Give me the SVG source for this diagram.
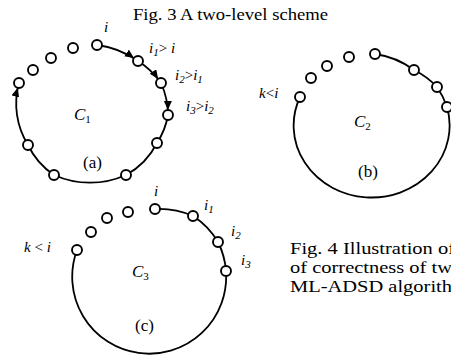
<svg xmlns="http://www.w3.org/2000/svg" width="451" height="355" viewBox="0 0 451 355">
<style>
  .edge { fill: none; stroke: #000; stroke-width: 1.8; }
  .node { fill: #fff; stroke: #000; stroke-width: 1.9; }
  text { font-family: "Liberation Serif", "Times New Roman", serif; fill: #000; }
  .it { font-style: italic; font-size: 15px; }
  .lbl { font-size: 17px; }
  .cap { font-size: 17px; }
</style>
<defs>
  <marker id="arr" markerUnits="userSpaceOnUse" markerWidth="15" markerHeight="9" refX="14" refY="4" orient="auto">
    <path d="M0,0 L9,4 L0,8 Z" fill="#000"/>
  </marker>
</defs>
<rect width="451" height="355" fill="#fff"/>

<text class="cap" x="133" y="20" textLength="195" lengthAdjust="spacingAndGlyphs">Fig. 3 A two-level scheme</text>

<g id="connectors">
  <path class="edge" d="M97,45 A90,90 0 0 1 138,61" marker-end="url(#arr)"/>
  <path class="edge" d="M138,61 A80,80 0 0 1 161,83" marker-end="url(#arr)"/>
  <path class="edge" d="M161,83 A80,80 0 0 1 168,115" marker-end="url(#arr)"/>
  <path class="edge" d="M168,115 A75,75 0 0 1 157,143 A75,75 0 0 1 126,175 A88,88 0 0 1 54,175 A75,75 0 0 1 28,145"/>
  <path class="edge" d="M28,145 A78,78 0 0 1 19,83" marker-end="url(#arr)"/>

  <path class="edge" d="M375,54 A85,85 0 0 1 414,70 A80,80 0 0 1 437,87 A80,80 0 0 1 447,107 A78,72 0 1 1 300,97"/>

  <path class="edge" d="M155,209 A85,85 0 0 1 193,216 A78,78 0 0 1 218,242 A78,78 0 0 1 226,271 A77,77 0 1 1 77,250"/>
</g>

<g id="a-n1"><circle class="node" cx="19" cy="83" r="5"/></g>
<g id="a-n2"><circle class="node" cx="33" cy="70" r="5"/></g>
<g id="a-n3"><circle class="node" cx="51" cy="58" r="5"/></g>
<g id="a-n4"><circle class="node" cx="73" cy="48" r="5"/></g>
<g id="a-i"><circle class="node" cx="97" cy="45" r="5"/></g>
<g id="a-i1"><circle class="node" cx="138" cy="61" r="5"/></g>
<g id="a-i2"><circle class="node" cx="161" cy="83" r="5"/></g>
<g id="a-i3"><circle class="node" cx="168" cy="115" r="5"/></g>
<g id="a-n9"><circle class="node" cx="157" cy="143" r="5"/></g>
<g id="a-n10"><circle class="node" cx="126" cy="175" r="5"/></g>
<g id="a-n11"><circle class="node" cx="54" cy="175" r="5"/></g>
<g id="a-n12"><circle class="node" cx="28" cy="145" r="5"/></g>

<g id="b-k"><circle class="node" cx="300" cy="97" r="5"/></g>
<g id="b-n2"><circle class="node" cx="311" cy="78" r="5"/></g>
<g id="b-n3"><circle class="node" cx="327" cy="66" r="5"/></g>
<g id="b-n4"><circle class="node" cx="349" cy="57" r="5"/></g>
<g id="b-n5"><circle class="node" cx="375" cy="54" r="5"/></g>
<g id="b-n6"><circle class="node" cx="414" cy="70" r="5"/></g>
<g id="b-n7"><circle class="node" cx="437" cy="87" r="5"/></g>
<g id="b-n8"><circle class="node" cx="447" cy="107" r="5"/></g>

<g id="c-k"><circle class="node" cx="77" cy="250" r="5"/></g>
<g id="c-n2"><circle class="node" cx="91" cy="232" r="5"/></g>
<g id="c-n3"><circle class="node" cx="107" cy="218" r="5"/></g>
<g id="c-n4"><circle class="node" cx="128" cy="212" r="5"/></g>
<g id="c-i"><circle class="node" cx="155" cy="209" r="5"/></g>
<g id="c-i1"><circle class="node" cx="193" cy="216" r="5"/></g>
<g id="c-i2"><circle class="node" cx="218" cy="242" r="5"/></g>
<g id="c-i3"><circle class="node" cx="226" cy="271" r="5"/></g>

<g id="labels-a">
  <text class="it" x="104" y="32">i</text>
  <text class="it" x="149" y="53">i<tspan font-size="11" dy="3">1</tspan><tspan font-style="normal" dy="-3">&gt; </tspan>i</text>
  <text class="it" x="175" y="80">i<tspan font-size="11" dy="3">2</tspan><tspan font-style="normal" dy="-3">&gt;</tspan>i<tspan font-size="11" dy="3">1</tspan></text>
  <text class="it" x="186" y="111">i<tspan font-size="11" dy="3">3</tspan><tspan font-style="normal" dy="-3">&gt;</tspan>i<tspan font-size="11" dy="3">2</tspan></text>
  <text class="lbl" x="74" y="120" font-style="italic">C<tspan font-size="11" font-style="normal" dy="3">1</tspan></text>
  <text class="lbl" x="83" y="168">(a)</text>
</g>

<g id="labels-b">
  <text class="it" x="259" y="98">k<tspan font-style="normal">&lt;</tspan>i</text>
  <text class="lbl" x="354" y="127" font-style="italic">C<tspan font-size="11" font-style="normal" dy="3">2</tspan></text>
  <text class="lbl" x="358" y="177">(b)</text>
</g>

<g id="labels-c">
  <text class="it" x="154" y="196">i</text>
  <text class="it" x="204" y="210">i<tspan font-size="11" dy="3">1</tspan></text>
  <text class="it" x="231" y="236">i<tspan font-size="11" dy="3">2</tspan></text>
  <text class="it" x="241" y="265">i<tspan font-size="11" dy="3">3</tspan></text>
  <text class="it" x="24" y="252" font-size="16px">k <tspan font-style="normal">&lt;</tspan> i</text>
  <text class="lbl" x="132" y="277" font-style="italic">C<tspan font-size="11" font-style="normal" dy="3">3</tspan></text>
  <text class="lbl" x="135" y="331">(c)</text>
</g>

<g id="caption-4">
  <text class="cap" x="290" y="254" textLength="165" lengthAdjust="spacingAndGlyphs">Fig. 4 Illustration of</text>
  <text class="cap" x="290" y="273" textLength="162" lengthAdjust="spacingAndGlyphs">of correctness of tw</text>
  <text class="cap" x="290" y="292" textLength="162" lengthAdjust="spacingAndGlyphs">ML-ADSD algorith</text>
</g>
</svg>
